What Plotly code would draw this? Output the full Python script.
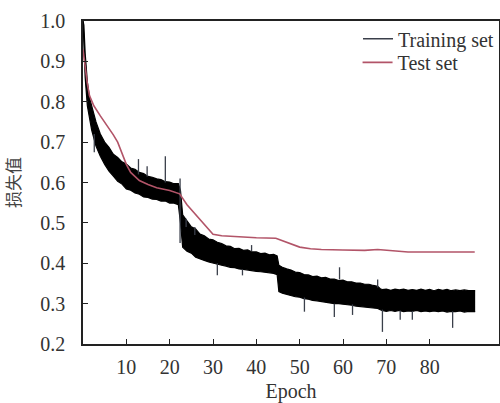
import plotly.graph_objects as go

# Training loss envelope (upper / lower edge of the noisy band)
train_epoch = [0, 0.2, 0.5, 1, 1.5, 2, 3, 4, 5, 6, 7, 8, 9, 10, 11, 12, 13, 14, 15, 16, 17, 18, 19, 20, 21, 22,
               22.5, 23, 24, 25, 26, 27, 28, 29, 30, 31, 32, 33, 34, 35, 36, 37, 38, 39, 40, 41, 42, 43, 44,
               44.8, 45.2, 46, 47, 48, 49, 50, 51, 52, 53, 54, 55, 56, 57, 58, 59, 60, 61, 62, 63, 64, 65,
               66, 67, 68, 68.6, 69, 70, 71, 72, 73, 74, 75, 76, 77, 78, 79, 80, 81, 82, 83, 84, 85, 86, 87,
               88, 89, 90.5]
train_upper = [1.0, 0.99, 0.92, 0.85, 0.81, 0.79, 0.75, 0.72, 0.70, 0.687, 0.67, 0.662, 0.651, 0.646, 0.636, 0.633,
               0.625, 0.622, 0.615, 0.613, 0.609, 0.607, 0.602, 0.601, 0.597, 0.597,
               0.58, 0.52, 0.505, 0.49, 0.485, 0.472, 0.468, 0.46, 0.458, 0.452, 0.449, 0.443, 0.442, 0.436,
               0.437, 0.432, 0.433, 0.428, 0.428, 0.424, 0.425, 0.421, 0.422,
               0.418, 0.395, 0.39, 0.386, 0.383, 0.378, 0.377, 0.372, 0.371, 0.367, 0.368, 0.364, 0.365, 0.361,
               0.361, 0.357, 0.358, 0.354, 0.354, 0.351, 0.351, 0.348,
               0.348, 0.345, 0.343, 0.337, 0.335, 0.336, 0.333, 0.336, 0.334, 0.336, 0.333, 0.335, 0.333, 0.336,
               0.333, 0.335, 0.332, 0.335, 0.333, 0.335, 0.332, 0.334, 0.332, 0.334, 0.332, 0.332]
train_lower = [1.0, 0.95, 0.86, 0.79, 0.76, 0.73, 0.69, 0.665, 0.645, 0.628, 0.616, 0.603, 0.596, 0.584, 0.581, 0.574,
               0.571, 0.564, 0.563, 0.559, 0.558, 0.554, 0.554, 0.549, 0.549, 0.545,
               0.50, 0.44, 0.43, 0.425, 0.415, 0.41, 0.407, 0.403, 0.40, 0.398, 0.395, 0.393, 0.39, 0.389,
               0.386, 0.385, 0.383, 0.381, 0.38, 0.379, 0.378, 0.376, 0.375,
               0.372, 0.33, 0.326, 0.323, 0.321, 0.317, 0.316, 0.312, 0.311, 0.308, 0.307, 0.305, 0.304, 0.302,
               0.30, 0.30, 0.299, 0.297, 0.296, 0.294, 0.293, 0.292,
               0.291, 0.29, 0.288, 0.285, 0.283, 0.281, 0.283, 0.281, 0.283, 0.28, 0.282, 0.281, 0.283, 0.28,
               0.282, 0.28, 0.282, 0.28, 0.282, 0.279, 0.281, 0.28, 0.282, 0.279, 0.281, 0.28]

# Outlier spikes of the training loss (epoch, band value, spike tip)
spike_epoch = [2.6, 12.8, 14.8, 19.0, 22.4, 23.8, 25.8, 31.0, 36.8, 38.9, 51.1, 58.0, 59.2, 62.2, 68.0, 69.1, 73.2, 76.0, 85.3]
spike_base = [0.72, 0.62, 0.615, 0.60, 0.45, 0.49, 0.47, 0.40, 0.385, 0.43, 0.315, 0.30, 0.36, 0.298, 0.34, 0.285, 0.283, 0.282, 0.281]
spike_tip = [0.675, 0.658, 0.64, 0.665, 0.61, 0.51, 0.49, 0.37, 0.37, 0.445, 0.28, 0.267, 0.39, 0.272, 0.36, 0.23, 0.26, 0.26, 0.24]

# Test loss
test_epoch = [0, 0.5, 1, 1.5, 2.5, 4, 6, 7, 8, 9, 10, 11, 13, 15, 17, 20, 22.3, 24, 26, 28, 30, 32, 36, 40, 44.5,
              47, 50, 52.5, 55, 60, 65, 68, 72, 75, 80, 85, 90.4]
test_loss = [0.93, 0.88, 0.845, 0.815, 0.79, 0.765, 0.735, 0.718, 0.70, 0.67, 0.645, 0.625, 0.605, 0.595, 0.587,
             0.58, 0.572, 0.545, 0.52, 0.495, 0.472, 0.468, 0.465, 0.463, 0.462,
             0.452, 0.44, 0.436, 0.434, 0.433, 0.432, 0.434, 0.43, 0.428, 0.428, 0.428, 0.428]

x_ticks = [10, 20, 30, 40, 50, 60, 70, 80]
y_ticks = [0.2, 0.3, 0.4, 0.5, 0.6, 0.7, 0.8, 0.9, 1.0]

BLACK = "#000000"
RED = "#b25468"
serif = "Liberation Serif"

sx, sy = [], []
for e, b, t in zip(spike_epoch, spike_base, spike_tip):
    sx += [e, e, None]
    sy += [b, t, None]

fig = go.Figure()
fig.add_trace(go.Scatter(x=train_epoch, y=train_upper, mode="lines",
                         line=dict(color=BLACK, width=1.2), showlegend=False, hoverinfo="skip"))
fig.add_trace(go.Scatter(x=train_epoch, y=train_lower, mode="lines", fill="tonexty", fillcolor=BLACK,
                         line=dict(color=BLACK, width=1.2), showlegend=False, hoverinfo="skip"))
fig.add_trace(go.Scatter(x=sx, y=sy, mode="lines", line=dict(color="#3a3f4a", width=1.3),
                         name="Training set", legend="legend"))
fig.add_trace(go.Scatter(x=test_epoch, y=test_loss, mode="lines", line=dict(color=RED, width=1.6),
                         name="Test set", legend="legend2"))

axis_common = dict(showline=True, linecolor="#222", linewidth=1.5, mirror=True, ticks="inside",
                   ticklen=5, tickwidth=1.2, tickcolor="#222", showgrid=False, zeroline=False,
                   automargin=False,
                   tickfont=dict(family=serif, size=20, color="#333"))

fig.update_xaxes(range=[0, 96], tickvals=x_ticks,
                 title=dict(text="Epoch", font=dict(family=serif, size=20, color="#333"), standoff=7),
                 ticklabelstandoff=4, **axis_common)
fig.update_yaxes(range=[0.2, 1.0], tickvals=y_ticks, ticktext=[f"{v:.1f}" for v in y_ticks],
                 title=dict(text="损失值", font=dict(family="Noto Sans CJK SC", size=17, color="#444"), standoff=20),
                 ticklabelstandoff=12, **axis_common)

leg_common = dict(yanchor="middle", bgcolor="rgba(0,0,0,0)",
                  font=dict(family=serif, size=20, color="#333"), itemwidth=30)
fig.update_layout(
    width=500, height=403,
    margin=dict(l=83, r=1, t=21, b=59),
    paper_bgcolor="white", plot_bgcolor="white",
    legend=dict(x=1.0, xanchor="right", y=0.945, **leg_common),
    legend2=dict(x=0.66, xanchor="left", y=0.872, **leg_common),
)

fig.write_html("out.html", config={"displayModeBar": False},
               post_script="document.body.style.margin='0';document.body.style.overflow='hidden';")
